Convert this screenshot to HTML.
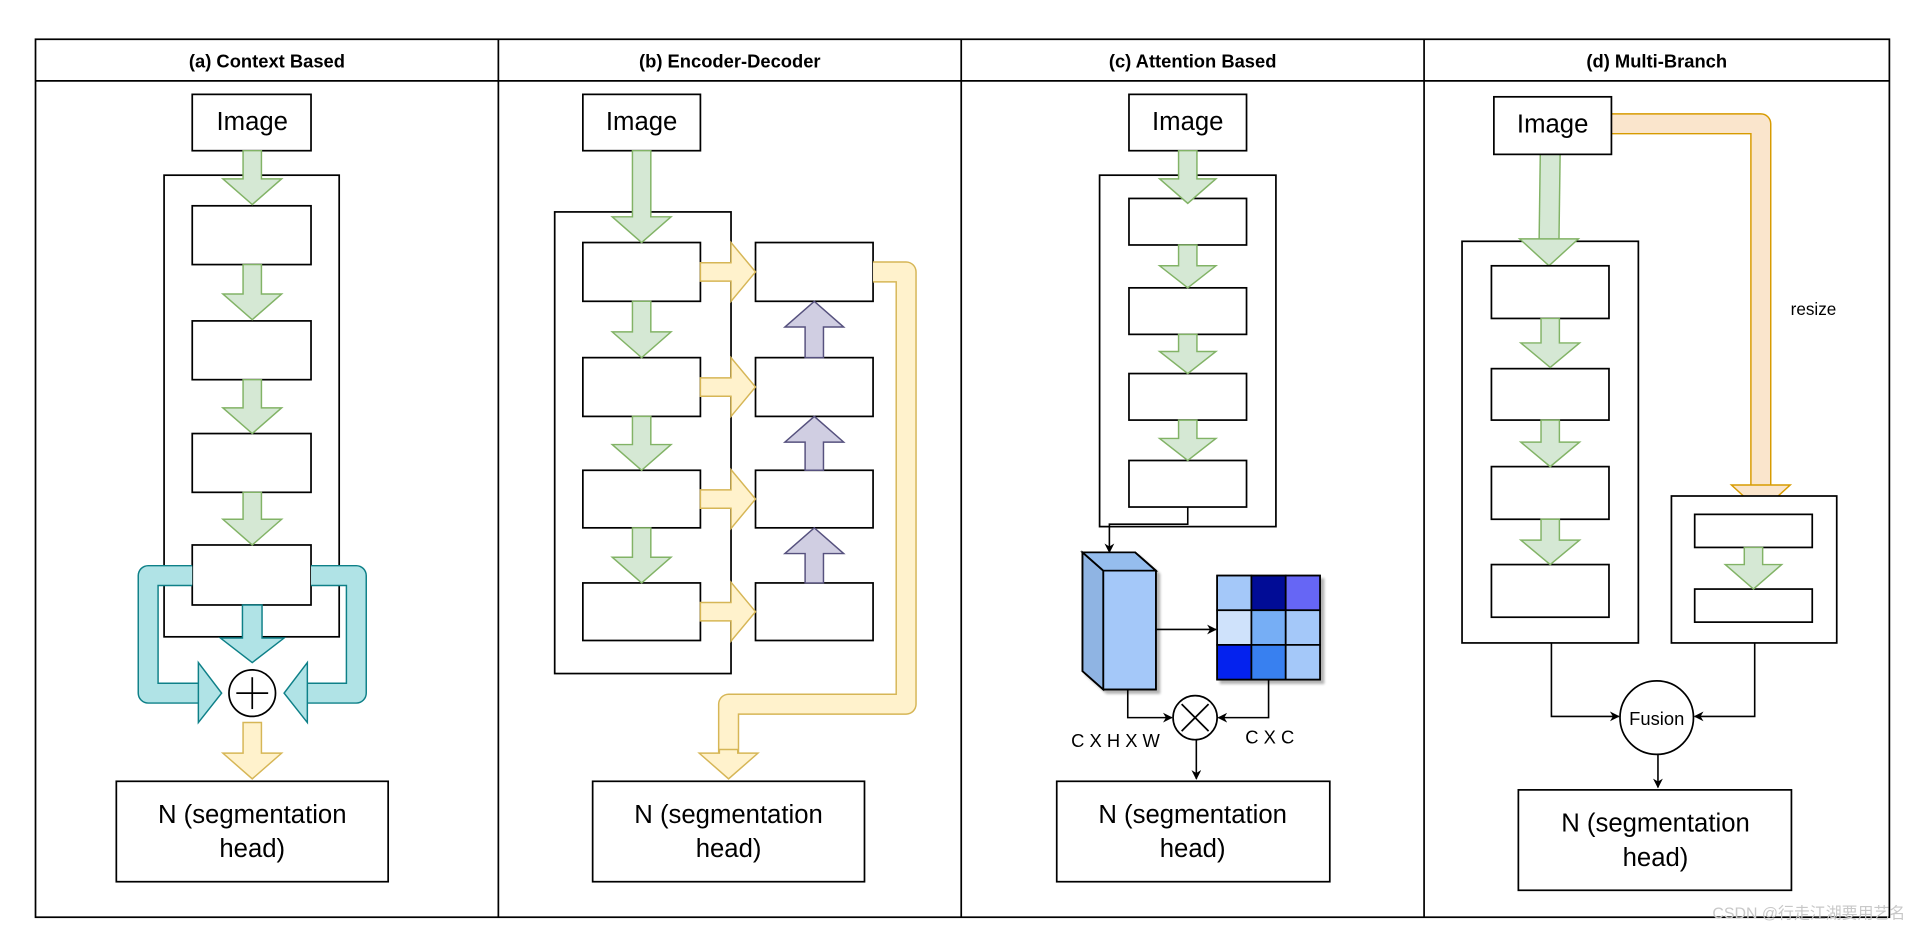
<!DOCTYPE html>
<html><head><meta charset="utf-8"><style>
html,body{margin:0;padding:0;background:#fff;}
svg{display:block;}
text{font-family:"Liberation Sans","Noto Sans CJK SC",sans-serif;}
</style></head><body>
<svg id="s" width="1920" height="932" viewBox="0 0 1568 761" xmlns="http://www.w3.org/2000/svg">
<defs><filter id="sh" x="-10%" y="-10%" width="130%" height="130%"><feOffset dx="3" dy="3" in="SourceAlpha"/><feGaussianBlur stdDeviation="1"/><feComponentTransfer><feFuncA type="linear" slope="0.3"/></feComponentTransfer><feMerge><feMergeNode/><feMergeNode in="SourceGraphic"/></feMerge></filter>
<marker id="ar" viewBox="0 0 10 10" refX="9" refY="5" markerWidth="8" markerHeight="8" orient="auto" markerUnits="userSpaceOnUse"><path d="M0,0 L10,5 L0,10 L3,5 z" fill="#000"/></marker></defs>
<g id="g" fill="none" stroke="#000" stroke-width="1.4"></g>
</svg>
<script>
var g=document.getElementById('g'),h='';
function R(x1,y1,x2,y2){h+='<rect x="'+x1+'" y="'+y1+'" width="'+(x2-x1)+'" height="'+(y2-y1)+'" fill="#fff"/>';}
function T(x,y,t,sz,w){h+='<text x="'+x+'" y="'+y+'" font-size="'+sz+'" text-anchor="middle" fill="#000" stroke="none"'+(w?' font-weight="bold"':'')+'>'+t+'</text>';}
function P(pts,f,s){h+='<polygon points="'+pts.map(function(p){return p.join(',')}).join(' ')+'" fill="'+f+'" stroke="'+s+'" stroke-width="1.2"/>';}
var C={g:['#d5e8d4','#82b366'],y:['#fff2cc','#d6b656'],p:['#d0cee2','#56517e'],t:['#b0e3e6','#0e8088'],o:['#fae5cc','#d79b00']};
function down(cx,y1,y2,c,sw,hw,hl){sw=sw||15;hw=hw||48;hl=hl||21;var a=sw/2,b=hw/2;P([[cx-a,y1],[cx+a,y1],[cx+a,y2-hl],[cx+b,y2-hl],[cx,y2],[cx-b,y2-hl],[cx-a,y2-hl]],C[c][0],C[c][1]);}
function up(cx,y1,y2,c){var a=7.5,b=24,hl=21;P([[cx-a,y1],[cx+a,y1],[cx+a,y2+hl],[cx+b,y2+hl],[cx,y2],[cx-b,y2+hl],[cx-a,y2+hl]],C[c][0],C[c][1]);}
function right(cy,x1,x2,c){var a=7.5,b=24,hl=20;P([[x1,cy-a],[x1,cy+a],[x2-hl,cy+a],[x2-hl,cy+b],[x2,cy],[x2-hl,cy-b],[x2-hl,cy-a]],C[c][0],C[c][1]);}
function left(cy,x1,x2,c){var a=7.5,b=24,hl=20;P([[x1,cy-a],[x1,cy+a],[x2+hl,cy+a],[x2+hl,cy+b],[x2,cy],[x2+hl,cy-b],[x2+hl,cy-a]],C[c][0],C[c][1]);}
function band(pts,c,w){w=w||15;var d='M'+pts.map(function(p){return p.join(',')}).join(' L');h+='<path d="'+d+'" stroke="'+C[c][1]+'" stroke-width="'+(w+2.4)+'" stroke-linejoin="round" fill="none"/><path d="'+d+'" stroke="'+C[c][0]+'" stroke-width="'+w+'" stroke-linejoin="round" fill="none"/>';}
function L(pts,m){h+='<polyline points="'+pts.map(function(p){return p.join(',')}).join(' ')+'" fill="none" stroke="#000" stroke-width="1.3"'+(m?' marker-end="url(#ar)"':'')+'/>';}
// frame
h+='<rect x="29" y="32" width="1514" height="717" fill="#fff"/>';
[407,785,1163].forEach(function(x){h+='<line x1="'+x+'" y1="32" x2="'+x+'" y2="749"/>';});
h+='<line x1="29" y1="66" x2="1543" y2="66"/>';
T(218,55,'(a) Context Based',15,1);T(596,55,'(b) Encoder-Decoder',15,1);T(974,55,'(c) Attention Based',15,1);T(1353,55,'(d) Multi-Branch',15,1);
// panel a
R(157,77,254,123);T(206,106,'Image',21);
R(134,143,277,520);
[[168,216],[262,310],[354,402],[445,494]].forEach(function(b){R(157,b[0],254,b[1]);});
down(206,123,167,'g');down(206,216,261,'g');down(206,310,354,'g');down(206,402,445,'g');
band([[157,470],[121,470],[121,566],[165,566]],'t');P([[162,541],[181,566],[162,590]],C.t[0],C.t[1]);
band([[254,470],[291,470],[291,566],[249,566]],'t');P([[251,541],[232,566],[251,590]],C.t[0],C.t[1]);
down(206,494,541,'t',16,52,20);
h+='<circle cx="206" cy="566" r="19" fill="#fff"/><line x1="193" y1="566" x2="219" y2="566"/><line x1="206" y1="553" x2="206" y2="579"/>';
down(206,590,636,'y');
R(95,638,317,720);T(206,672,'N (segmentation',21);T(206,700,'head)',21);
// panel b
R(476,77,572,123);T(524,106,'Image',21);
R(453,173,597,550);
var ys=[[198,246],[292,340],[384,431],[476,523]];
ys.forEach(function(b){R(476,b[0],572,b[1]);R(617,b[0],713,b[1]);right((b[0]+b[1])/2,572,617,'y');});
down(524,123,198,'g');down(524,246,292,'g');down(524,340,384,'g');down(524,431,476,'g');
up(665,292,246,'p');up(665,384,340,'p');up(665,476,431,'p');
band([[713,222],[740,222],[740,575],[595,575],[595,618]],'y');
down(595,612,636,'y',15,48,21);
R(484,638,706,720);T(595,672,'N (segmentation',21);T(595,700,'head)',21);
// panel c
R(922,77,1018,123);T(970,106,'Image',21);
R(898,143,1042,430);
[[162,200],[235,273],[305,343],[376,414]].forEach(function(b){R(922,b[0],1018,b[1]);});
down(970,123,166,'g',15,46,20);down(970,200,235,'g',15,46,18);down(970,273,305,'g',15,46,18);down(970,343,376,'g',15,46,18);
L([[970,414],[970,428],[906,428],[906,451]],1);
h+='<g filter="url(#sh)"><polygon points="884,451 927,451 944,466 944,563 901,563 884,548" fill="#a4c8f9"/></g>';
h+='<polygon points="884,451 901,466 901,563 884,548" fill="#8fb4e3"/><polygon points="884,451 927,451 944,466 901,466" fill="#95bdee"/>';
h+='<polygon points="884,451 927,451 944,466 944,563 901,563 884,548" fill="none"/><polyline points="884,451 901,466 944,466" fill="none"/><line x1="901" y1="466" x2="901" y2="563"/>';
L([[944,514],[993,514]],1);
var cols=[['#a4c8f9','#010c96','#6666f5'],['#cfe2fb','#76aef5','#a4c8f9'],['#0422ee','#3880f0','#a4c8f9']];
h+='<rect x="994" y="470" width="84" height="85" fill="#000" filter="url(#sh)"/>';
for(var r=0;r<3;r++)for(var c=0;c<3;c++)h+='<rect x="'+(994+c*28)+'" y="'+(470+r*28.3)+'" width="28" height="28.3" fill="'+cols[r][c]+'"/>';
L([[921,563],[921,586],[957,586]],1);L([[1036,555],[1036,586],[995,586]],1);
h+='<circle cx="976" cy="586" r="18" fill="#fff"/><line x1="965" y1="575" x2="987" y2="597"/><line x1="987" y1="575" x2="965" y2="597"/>';
T(911,610,'C X H X W',15);T(1037,607,'C X C',15);
L([[977,604],[977,636]],1);
R(863,638,1086,720);T(974,672,'N (segmentation',21);T(974,700,'head)',21);
// panel d
band([[1316,101],[1438,101],[1438,400]],'o');
down(1438,396,418,'o',15,48,22);
T(1481,257,'resize',14);
R(1194,197,1338,525);
band([[1266,126],[1265,200]],'g');down(1265,195,217,'g',15,48,22);
R(1220,79,1316,126);T(1268,108,'Image',21);
[[217,260],[301,343],[381,424],[461,504]].forEach(function(b){R(1218,b[0],1314,b[1]);});
down(1266,260,300,'g',15,48,20);down(1266,343,381,'g',15,48,20);down(1266,424,461,'g',15,48,20);
R(1365,405,1500,525);R(1384,420,1480,447);R(1384,481,1480,508);
down(1432,447,481,'g',15,46,20);
L([[1267,525],[1267,585],[1322,585]],1);L([[1433,525],[1433,585],[1384,585]],1);
h+='<circle cx="1353" cy="586" r="30" fill="#fff"/>';T(1353,592,'Fusion',15);
L([[1354,616],[1354,643]],1);
R(1240,645,1463,727);T(1352,679,'N (segmentation',21);T(1352,707,'head)',21);
h+='<text x="1556" y="750" font-size="13" text-anchor="end" fill="#c8c8c8" stroke="none">CSDN @行走江湖要用艺名</text>';
g.innerHTML=h;
</script>
</body></html>
